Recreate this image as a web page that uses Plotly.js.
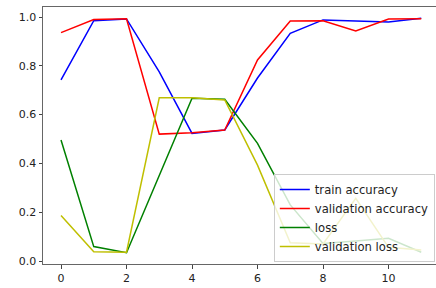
<!DOCTYPE html>
<html><head><meta charset="utf-8">
<script src="https://cdn.plot.ly/plotly-3.0.1.min.js"></script>
<style>html,body{margin:0;padding:0;background:#fff}#chart{width:436px;height:288px}</style>
</head><body><div id="chart"></div>
<script>
const epochs = [0,1,2,3,4,5,6,7,8,9,10,11];
const trainAccuracy = [0.742,0.985,0.992,0.775,0.523,0.537,0.75,0.933,0.988,0.984,0.98,0.995];
const valAccuracy = [0.936,0.990,0.993,0.520,0.526,0.537,0.824,0.984,0.985,0.943,0.992,0.993];
const loss = [0.496,0.059,0.034,0.353,0.667,0.663,0.482,0.23,0.072,0.082,0.093,0.036];
const valLoss = [0.186,0.038,0.036,0.669,0.669,0.660,0.393,0.075,0.070,0.257,0.056,0.045];
const names = ['train accuracy','validation accuracy','loss','validation loss'];
const colors = ['#0000ff','#ff0000','#008000','#bfbf00'];
const series = [trainAccuracy, valAccuracy, loss, valLoss];
const xTicks = [0,2,4,6,8,10];
const yTicks = [0,0.2,0.4,0.6,0.8,1.0];
const yTickText = ['0.0','0.2','0.4','0.6','0.8','1.0'];

const traces = series.map((s,i)=>({x:epochs,y:s,type:'scatter',mode:'lines',name:names[i],
  line:{color:colors[i],width:1.5}}));

const layout = {
  width:436,height:288,
  margin:{l:43,r:0,t:7,b:24},
  paper_bgcolor:'#fff',plot_bgcolor:'#fff',
  font:{family:'DejaVu Sans',size:11,color:'#222'},
  showlegend:true,
  xaxis:{range:[-0.55,11.45],tickvals:xTicks,ticks:'outside',ticklen:3.5,tickwidth:1,tickcolor:'#444',
    showgrid:false,zeroline:false,showline:true,linecolor:'#666',linewidth:1,mirror:true,fixedrange:true},
  yaxis:{range:[-0.0123,1.041],tickvals:yTicks,ticktext:yTickText,ticks:'outside',ticklen:3.5,tickwidth:1,tickcolor:'#444',
    showgrid:false,zeroline:false,showline:true,linecolor:'#666',linewidth:1,fixedrange:true},
  legend:{x:0.997,y:0.008,xanchor:'right',yanchor:'bottom',bgcolor:'rgba(255,255,255,0.8)',
    bordercolor:'#ccc',borderwidth:1,font:{size:11.6,color:'#222'},itemwidth:30,tracegroupgap:0}
};
Plotly.newPlot('chart',traces,layout,{staticPlot:true,displayModeBar:false});
</script></body></html>
